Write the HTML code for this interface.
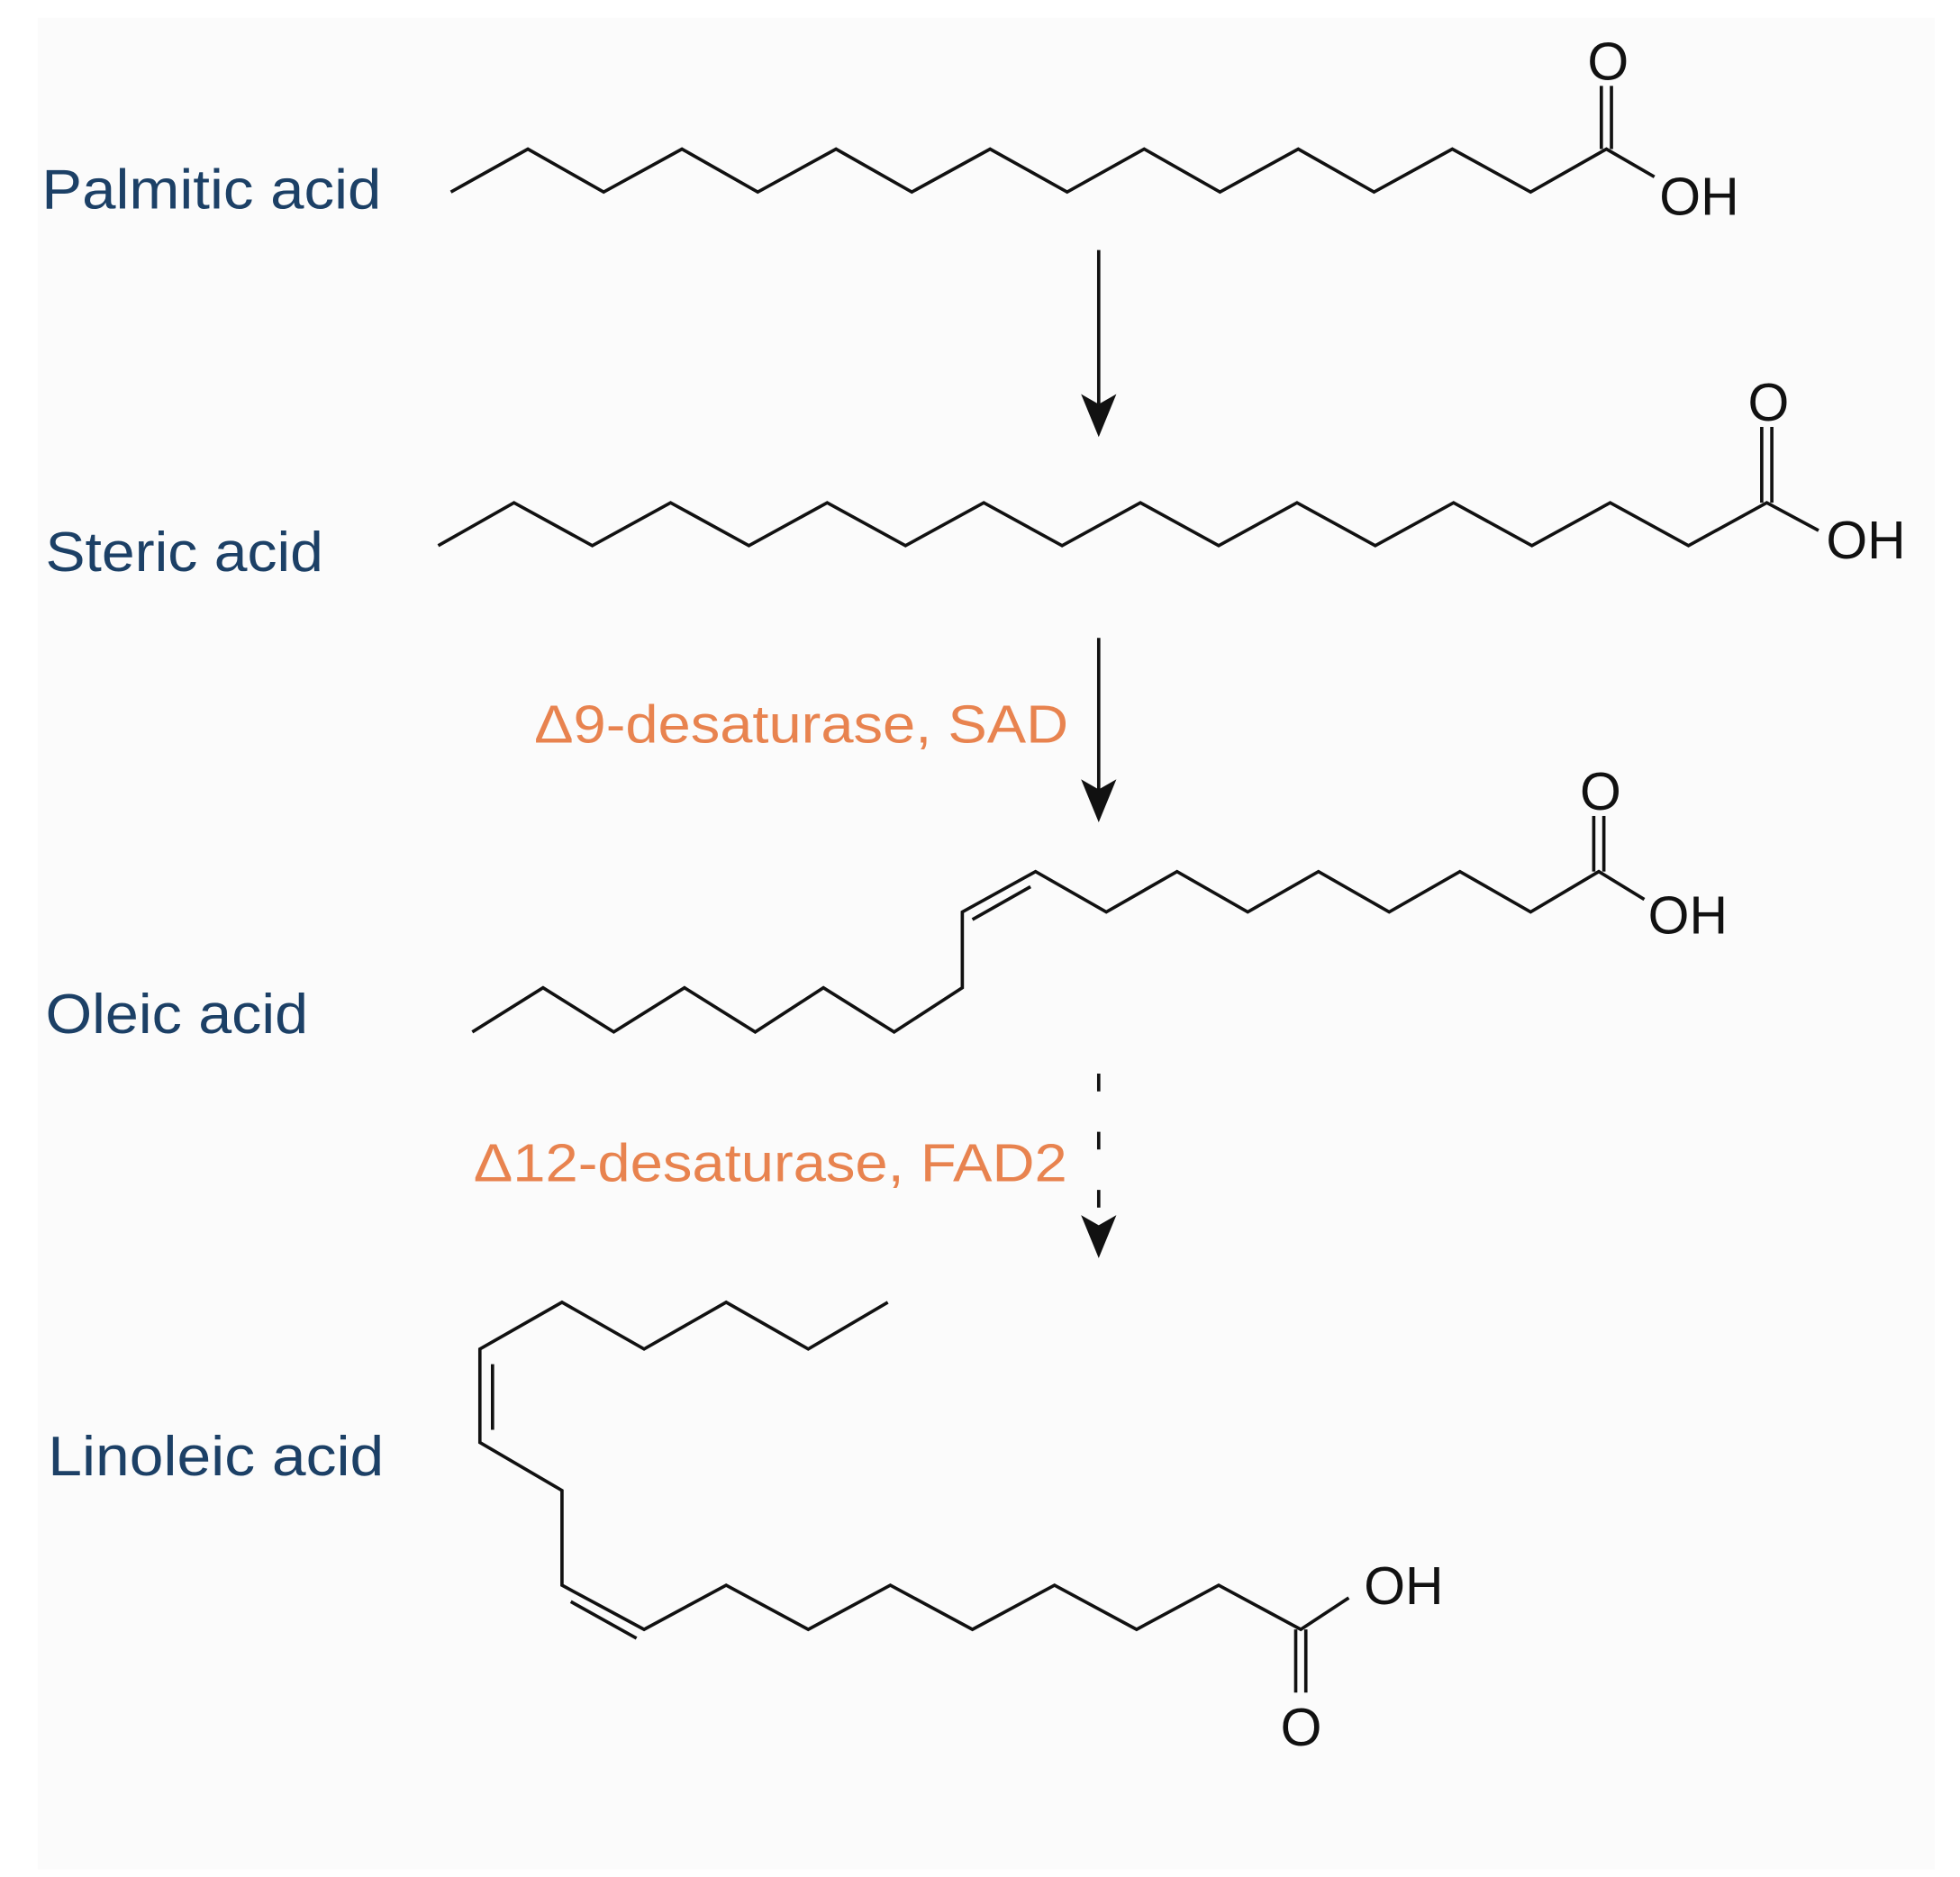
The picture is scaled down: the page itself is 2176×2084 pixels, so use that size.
<!DOCTYPE html>
<html><head><meta charset="utf-8"><style>
html,body{margin:0;padding:0;background:#fff;}
svg{display:block;}
</style></head><body>
<svg width="2176" height="2084" viewBox="0 0 1552 1486" preserveAspectRatio="none" xmlns="http://www.w3.org/2000/svg">
<rect x="0" y="0" width="1552" height="1486" fill="#ffffff"/>
<rect x="30" y="14" width="1502" height="1466" fill="#fbfbfb"/>
<g fill="none" stroke="#111" stroke-width="2.6" stroke-linejoin="miter">
<polyline points="357,152 418,118 478,152 540,118 600,152 662,118 722,152 784,118 845,152 906,118 966,152 1028,118 1088,152 1150,118 1212,152 1272,118 1310,140"/>
<line x1="1268" y1="118" x2="1268" y2="68"/><line x1="1276" y1="118" x2="1276" y2="68"/>
<line x1="870" y1="198" x2="870" y2="320"/>
<polyline points="347,432 407,398 469,432 531,398 593,432 655,398 717,432 779,398 841,432 903,398 965,432 1027,398 1089,432 1151,398 1213,432 1275,398 1337,432 1399,398 1440,420"/>
<line x1="1395" y1="398" x2="1395" y2="338"/><line x1="1403" y1="398" x2="1403" y2="338"/>
<line x1="870" y1="505" x2="870" y2="625"/>
<polyline points="374,817 430,782 486,817 542,782 598,817 652,782 708,817 762,782 762,722 820,690 876,722 932,690 988,722 1044,690 1100,722 1156,690 1212,722 1266,690 1302,712"/>
<line x1="770" y1="728" x2="816" y2="702"/>
<line x1="1262" y1="690" x2="1262" y2="646"/><line x1="1270" y1="690" x2="1270" y2="646"/>
<line x1="870" y1="850" x2="870" y2="975" stroke-dasharray="14,32"/>
<polyline points="703,1031 640,1068 575,1031 510,1068 445,1031 380,1068 380,1142 445,1180 445,1255 510,1290 575,1255 640,1290 705,1255 770,1290 835,1255 900,1290 965,1255 1030,1290 1068,1265"/>
<line x1="390" y1="1080" x2="390" y2="1132"/>
<line x1="452" y1="1268" x2="504" y2="1297"/>
<line x1="1026" y1="1290" x2="1026" y2="1340"/><line x1="1034" y1="1290" x2="1034" y2="1340"/>
</g>
<g fill="#111">
<polygon points="856,312 870,346 884,312 870,320"/>
<polygon points="856,617 870,651 884,617 870,625"/>
<polygon points="856,962 870,996 884,962 870,970"/>
</g>
<g font-family="Liberation Sans, sans-serif" fill="#111" font-size="42">
<text x="1257" y="63">O</text>
<text x="1314" y="170">OH</text>
<text x="1384" y="333">O</text>
<text x="1446" y="442">OH</text>
<text x="1251" y="641">O</text>
<text x="1305" y="739">OH</text>
<text x="1080" y="1270">OH</text>
<text x="1014" y="1382">O</text>
</g>
<g font-family="Liberation Sans, sans-serif" fill="#1c4066" font-size="44">
<text x="33" y="165" textLength="269" lengthAdjust="spacingAndGlyphs">Palmitic acid</text>
<text x="36" y="452" textLength="220" lengthAdjust="spacingAndGlyphs">Steric acid</text>
<text x="36" y="818" textLength="208" lengthAdjust="spacingAndGlyphs">Oleic acid</text>
<text x="38" y="1168" textLength="266" lengthAdjust="spacingAndGlyphs">Linoleic acid</text>
</g>
<g font-family="Liberation Sans, sans-serif" fill="#e8834f" font-size="42">
<text x="423" y="588" textLength="423" lengthAdjust="spacingAndGlyphs">Δ9-desaturase, SAD</text>
<text x="375" y="935" textLength="470" lengthAdjust="spacingAndGlyphs">Δ12-desaturase, FAD2</text>
</g>
</svg>
</body></html>
